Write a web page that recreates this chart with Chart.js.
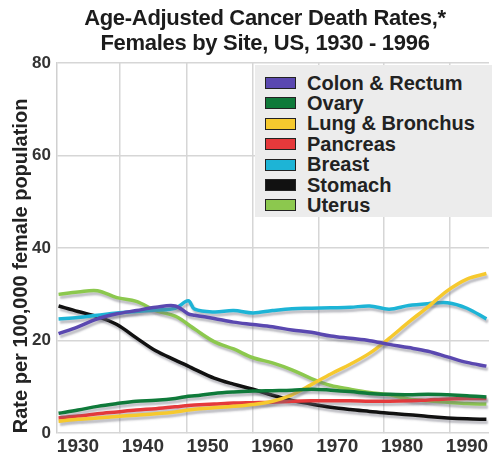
<!DOCTYPE html>
<html><head><meta charset="utf-8">
<script src="https://cdn.jsdelivr.net/npm/chart.js@4.4.1/dist/chart.umd.min.js"></script>
<style>
html,body{margin:0;padding:0;background:#fff;}
#wrap{position:relative;width:492px;height:460px;overflow:hidden;background:#fff;}
#c{position:absolute;left:0;top:0;}
#title{position:absolute;left:0;top:5px;width:530px;text-align:center;font:bold 22px "Liberation Sans",Arial,sans-serif;line-height:25px;color:#1c1c1c;letter-spacing:-0.3px;}
#legend{position:absolute;left:255px;top:65px;width:237px;height:152px;background:#ececec;}
.row{position:absolute;left:10px;height:20px;display:flex;align-items:center;font:bold 20px "Liberation Sans",Arial,sans-serif;color:#222;white-space:nowrap;}
.sw{width:29px;height:10px;border:1.5px solid #222;margin-right:11px;flex:none;}
</style>
</head><body>
<div id="wrap">
<canvas id="c" width="492" height="460"></canvas>
<div id="title">Age-Adjusted Cancer Death Rates,*<br>Females by Site, US, 1930 - 1996</div>
<div id="legend"></div>
</div>
<script>
const titleLines = ["Age-Adjusted Cancer Death Rates,*", "Females by Site, US, 1930 - 1996"];
const yAxisTitle = "Rate per 100,000 female population";
const years = [1927,1930,1933,1936,1939,1942,1945,1947,1948,1951,1954,1957,1960,1963,1966,1969,1972,1975,1978,1981,1984,1987,1990,1993];
const xTickYears = [1930,1940,1950,1960,1970,1980,1990];
const yTicks = [0,20,40,60,80];
const seriesNames = ["Colon & Rectum","Ovary","Lung & Bronchus","Pancreas","Breast","Stomach","Uterus"];
const colonRectum = [21.5,23.0,24.7,25.8,26.5,27.2,27.5,25.8,25.5,24.8,24.0,23.5,23.0,22.3,21.8,21.0,20.5,20.0,19.2,18.5,17.7,16.5,15.3,14.5];
const ovary       = [4.3,5.0,5.8,6.4,6.9,7.1,7.5,8.0,8.1,8.6,8.9,9.1,9.2,9.3,9.5,9.3,9.0,8.6,8.4,8.3,8.4,8.3,8.1,7.8];
const lungBronchus= [2.6,3.0,3.3,3.6,3.9,4.2,4.6,5.0,5.2,5.5,5.8,6.2,6.9,8.3,10.5,12.8,14.9,17.3,20.5,24.0,27.3,30.8,33.3,34.5];
const pancreas    = [3.3,3.7,4.2,4.6,5.0,5.3,5.7,6.0,6.1,6.3,6.5,6.6,6.7,6.9,7.0,7.0,7.0,6.9,6.9,7.0,7.2,7.4,7.5,7.5];
const breast      = [24.7,25.0,25.5,26.0,26.3,26.6,27.0,28.6,26.8,26.2,26.5,26.0,26.5,26.9,27.0,27.1,27.2,27.5,26.8,27.6,28.0,28.2,27.0,24.7];
const stomach     = [27.5,26.3,25.2,23.5,20.6,17.8,15.8,14.5,13.8,11.9,10.6,9.5,8.2,7.1,6.3,5.6,5.1,4.7,4.3,4.0,3.6,3.3,3.1,3.0];
const uterus      = [30.0,30.5,30.8,29.3,28.5,26.5,25.3,23.5,22.5,19.8,18.2,16.3,15.2,13.7,11.8,10.3,9.5,8.8,8.3,7.4,7.0,6.7,6.4,6.3];
const seriesValues = [colonRectum, ovary, lungBronchus, pancreas, breast, stomach, uterus];
const seriesColors = ["#5a48b0","#0f7a3a","#f6c92e","#e5393b","#1db4d6","#111111","#8cc84e"];
const gridYears = [1936.5,1946.7,1956.9,1967.1,1977.2,1987.4];

const FONT = '"Liberation Sans", Arial, sans-serif';

// legend (HTML)
const lg = document.getElementById('legend');
seriesNames.forEach((n,i)=>{
  const r = document.createElement('div');
  r.className='row';
  r.style.top = (8 + i*20.4) + 'px';
  const sw = document.createElement('span');
  sw.className='sw'; sw.style.background = seriesColors[i];
  const t = document.createElement('span'); t.textContent = n;
  r.appendChild(sw); r.appendChild(t); lg.appendChild(r);
});

const shadowPlugin = {
  id:'shadow',
  beforeDatasetDraw(chart){ const c=chart.ctx; c.save(); c.shadowColor='rgba(110,110,125,0.45)'; c.shadowOffsetX=1.5; c.shadowOffsetY=3; c.shadowBlur=2; },
  afterDatasetDraw(chart){ chart.ctx.restore(); }
};

new Chart(document.getElementById('c'), {
  type:'line',
  data:{
    datasets: seriesNames.map((n,i)=>({
      label:n,
      data: years.map((y,k)=>({x:y, y:seriesValues[i][k]})),
      borderColor:seriesColors[i], backgroundColor:seriesColors[i],
      borderWidth:3.5, pointRadius:0, tension:0.35, fill:false
    }))
  },
  options:{
    responsive:false, animation:false,
    layout:{padding:{top:63,right:3,left:0,bottom:0}},
    plugins:{legend:{display:false}, tooltip:{enabled:false}, title:{display:false}},
    scales:{
      x:{type:'linear', min:1926.76, max:1993.4,
         afterBuildTicks:s=>{ s.ticks = xTickYears.map(v=>({value:v})); },
         grid:{display:false, drawTicks:false}, border:{display:false},
         ticks:{font:{family:FONT,size:19,weight:'bold'}, color:'#333', padding:2, maxRotation:0, autoSkip:false, callback:v=>String(v)}},
      xg:{type:'linear', position:'top', min:1926.76, max:1993.4,
         afterBuildTicks:s=>{ s.ticks = gridYears.map(v=>({value:v})); },
         grid:{display:true, drawTicks:false, color:'#d6d6d6', lineWidth:1.5}, border:{display:false},
         ticks:{display:false}},
      y:{min:0, max:80,
         afterBuildTicks:s=>{ s.ticks = yTicks.map(v=>({value:v})); },
         afterFit:s=>{ s.width = 57; },
         grid:{drawTicks:false, color:'#d6d6d6', lineWidth:1.5},
         border:{display:true, color:'#d0d0d0', width:1.5},
         ticks:{font:{family:FONT,size:17,weight:'bold'}, color:'#333', padding:6},
         title:{display:true, text:yAxisTitle, align:'start', font:{family:FONT,size:20,weight:'bold'}, color:'#222', padding:{top:9,bottom:0}}}
    }
  },
  plugins:[shadowPlugin]
});
</script>
</body></html>
